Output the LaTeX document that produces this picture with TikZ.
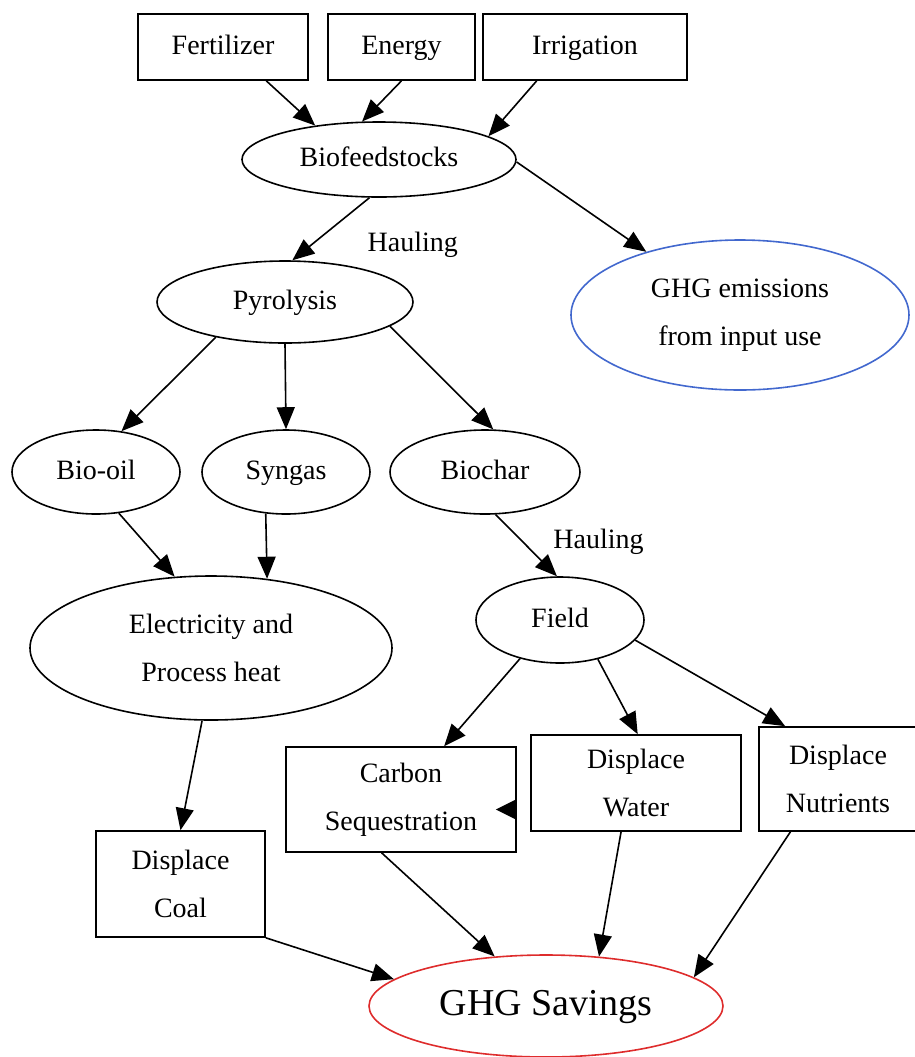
\documentclass[tikz,border=0pt]{standalone}
\usepackage{fontspec}
\setmainfont{Liberation Serif}
\usepackage{xcolor}
\usepackage{tikz}
\usetikzlibrary{shapes.geometric, arrows.meta}

\definecolor{emitblue}{RGB}{66,104,206}
\definecolor{savered}{RGB}{222,44,44}

\begin{document}
\begin{tikzpicture}[
    x=0.5pt, y=-0.5pt,
    font=\fontsize{14}{24}\selectfont,
    line width=0.8pt,
    >={Triangle[length=11pt, width=9pt]},
    input_box/.style={draw, rectangle, align=center, inner sep=0pt, minimum height=33pt},
    stage/.style={draw, ellipse, align=center, inner sep=0pt},
    one_line/.style={text height=10pt, text depth=3pt},
    haul_label/.style={inner sep=0pt},
    flow/.style={->, line width=0.8pt}
]
\useasboundingbox (0,0) rectangle (915,1057);

% INPUTS
\node[input_box, one_line, minimum width=85pt] (fertilizer) at (223,47) {Fertilizer};
\node[input_box, one_line, minimum width=73.5pt] (energy) at (401.5,47) {Energy};
\node[input_box, one_line, minimum width=102pt] (irrigation) at (585,47) {Irrigation};

% PROCESS STAGES
\node[stage, one_line, minimum width=137pt, minimum height=37.5pt] (biofeed) at (379,159.5) {Biofeedstocks};
\node[stage, one_line, minimum width=128pt, minimum height=41pt] (pyrolysis) at (285,302) {Pyrolysis};
\node[stage, draw=emitblue, minimum width=169pt, minimum height=75pt] (emissions) at (740,315) {GHG emissions\\from input use};
\node[stage, one_line, minimum width=84pt, minimum height=42pt] (biooil) at (96,472) {Bio-oil};
\node[stage, one_line, minimum width=84pt, minimum height=42pt] (syngas) at (286,472) {Syngas};
\node[stage, one_line, minimum width=95pt, minimum height=42pt] (biochar) at (485,472) {Biochar};
\node[stage, minimum width=181pt, minimum height=72pt] (power) at (211,648) {Electricity and\\Process heat};
\node[stage, one_line, minimum width=84pt, minimum height=43pt] (field) at (560,620) {Field};

% DISPLACEMENT BOXES
\node[input_box, minimum width=115pt, minimum height=52.5pt] (carbon) at (401,799.5) {Carbon\\Sequestration};
\node[input_box, minimum width=105pt, minimum height=48pt] (water) at (636,783) {Displace\\Water};
\node[input_box, minimum width=79pt, minimum height=52pt] (nutrients) at (838,779) {Displace\\Nutrients};
\node[input_box, minimum width=84.5pt, minimum height=53pt] (coal) at (180.5,884) {Displace\\Coal};

\node[stage, draw=savered, minimum width=177pt, minimum height=51pt, text height=13pt, text depth=4pt,
      font=\fontsize{19}{24}\selectfont] (savings) at (546,1006) {GHG Savings};

% CONNECTORS
\draw[flow] (fertilizer.-38) -- (biofeed.152);
\draw[flow] (energy.south) -- (biofeed.114);
\draw[flow] (irrigation.-145) -- (biofeed.12);
\draw[flow] (biofeed.-104) -- (pyrolysis.80) node[haul_label, pos=0.76, right=28pt] {Hauling};
\draw[flow] (biofeed.-1) -- (emissions.146);
\draw[flow] (pyrolysis.-153) -- (biooil.58);
\draw[flow] (pyrolysis.south) -- (syngas.north);
\draw[flow] (pyrolysis.-13) -- (biochar.79);
\draw[flow] (biooil.-61) -- (power.117);
\draw[flow] (syngas.-116) -- (power.51);
\draw[flow] (biochar.-76) -- (field.94) node[haul_label, pos=0.44, right=15pt] {Hauling};
\draw[flow] (power.-97) -- (coal.north);
\draw[flow] (field.-136) -- (carbon.51);
\draw[flow] (field.-46) -- (water.88);
\draw[flow] (field.-15) -- (nutrients.135);
\draw[flow] (coal.south east) -- (savings.170);
\draw[flow] (carbon.-110) -- (savings.136);
\draw[flow] (water.-107) -- (savings.43);
\draw[flow] (nutrients.-132) -- (savings.11);

% lone head on the carbon box
\fill ([yshift=-5pt]carbon.east) ++(0,-10.5) -- ++(-21,10.5) -- ++(21,10.5) -- cycle;

\end{tikzpicture}
\end{document}
